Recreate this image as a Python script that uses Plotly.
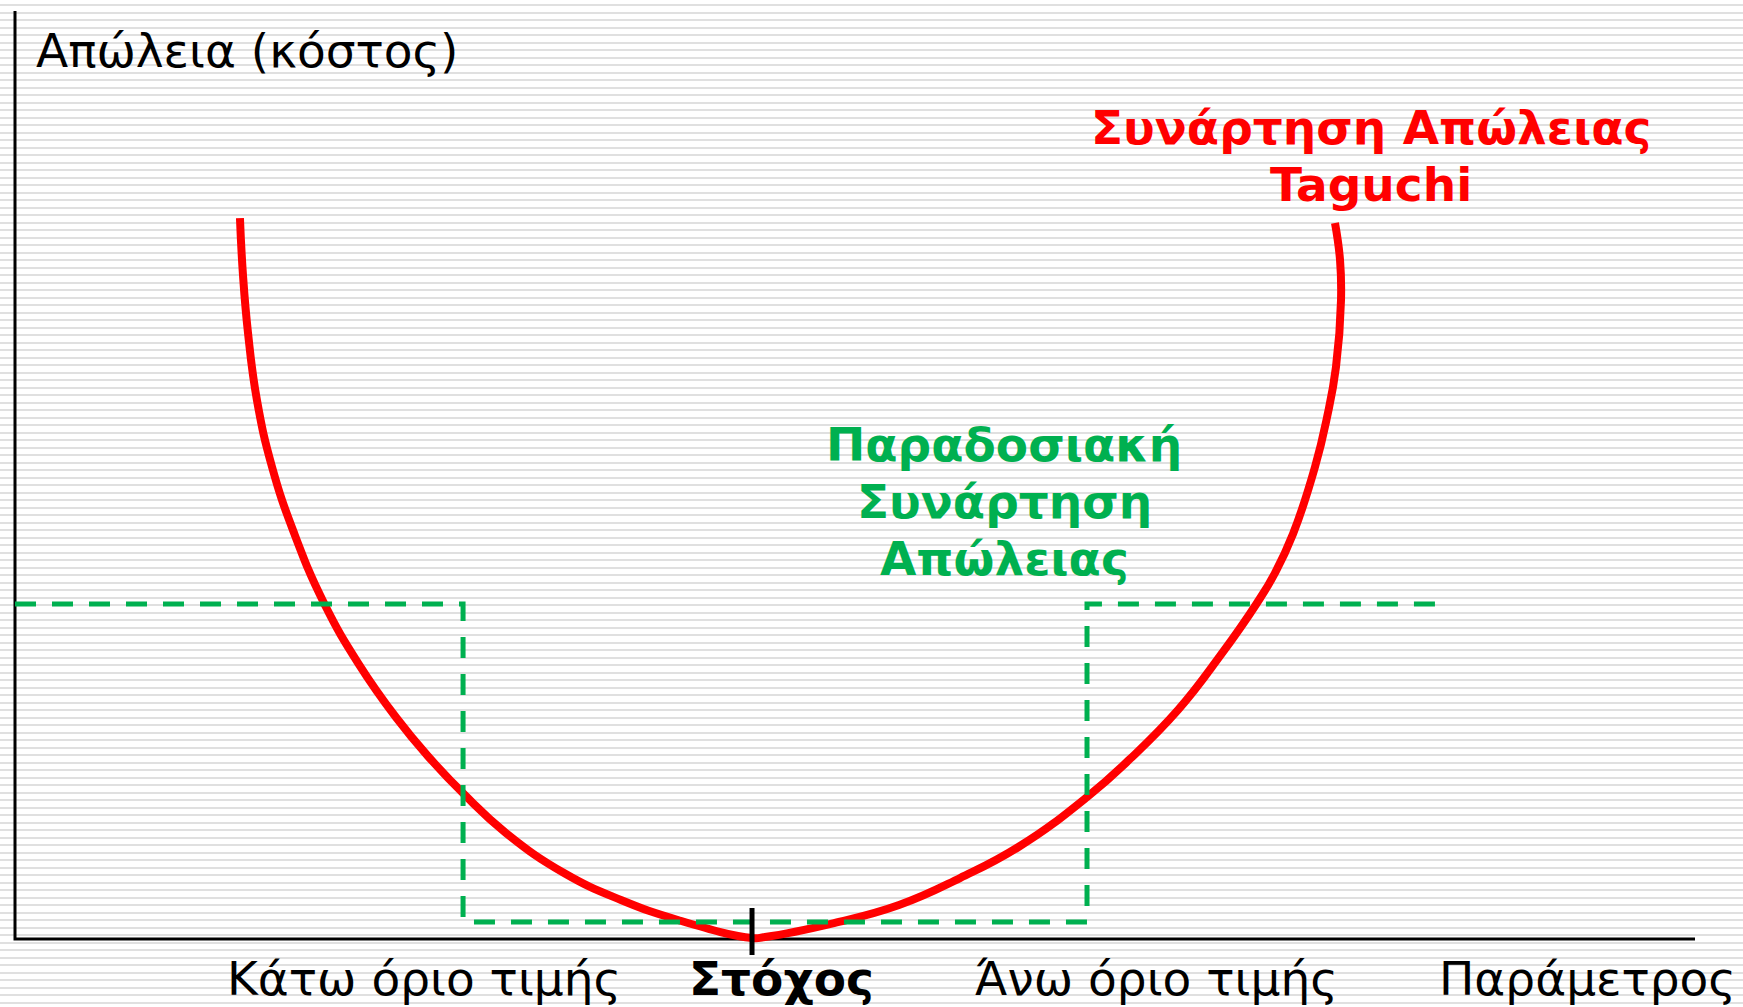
import plotly.graph_objects as go

# ---- data (x: parameter, y: loss/cost; axis spans 0..100 on both) ----
taguchi_x = [13.39, 13.57, 13.87, 14.40, 15.30, 16.61, 18.39, 20.46, 22.71, 24.57,
             26.77, 29.23, 32.68, 36.07, 39.46, 43.87, 44.64, 48.75, 52.62, 56.25,
             59.82, 63.81, 66.37, 69.23, 71.73, 73.93, 75.00, 76.07, 77.38, 78.10,
             78.63, 78.93, 78.87, 78.57]
taguchi_y = [77.69, 71.55, 65.30, 58.08, 50.86, 43.75, 36.21, 29.63, 23.81, 19.72,
             15.52, 11.42, 7.11, 4.20, 2.05, 0.11, 0.22, 1.72, 3.66, 6.57,
             10.02, 15.30, 19.40, 24.68, 30.50, 36.21, 39.44, 43.64, 50.86, 56.25,
             61.64, 68.86, 73.17, 77.16]

lower_limit = 26.67
upper_limit = 63.81
target = 43.87
traditional_loss_level = 36.1
traditional_floor = 1.83
traditional_x_end = 84.82

axis_x_max = 100
axis_y_max = 100

tick_labels = ["Κάτω όριο τιμής", "Στόχος", "Άνω όριο τιμής", "Παράμετρος"]
y_label = "Απώλεια (κόστος)"
taguchi_lines = ["Συνάρτηση Απώλειας", "Taguchi"]
traditional_lines = ["Παραδοσιακή", "Συνάρτηση", "Απώλειας"]

# ---- geometry of the page ----
W, H = 1743, 1007
X0_PX, X_UNIT = 15, 16.8      # pixel of x=0, pixels per x unit
Y0_PX, Y_UNIT = 939, 9.28     # pixel of y=0, pixels per y unit

def xd(px):
    return (px - X0_PX) / X_UNIT

def yd(py):
    return (Y0_PX - py) / Y_UNIT

RED = "#FF0000"
GREEN = "#00B050"
FONT = "DejaVu Sans, Verdana, sans-serif"
FS = 47

fig = go.Figure()

trad_x = [0, lower_limit, lower_limit, upper_limit, upper_limit, traditional_x_end]
trad_y = [traditional_loss_level, traditional_loss_level, traditional_floor,
          traditional_floor, traditional_loss_level, traditional_loss_level]

# axes lines
fig.add_trace(go.Scatter(x=[0, 0, axis_x_max], y=[axis_y_max, 0, 0], mode="lines",
                         line=dict(color="black", width=3), hoverinfo="skip"))
# Taguchi loss
fig.add_trace(go.Scatter(x=taguchi_x, y=taguchi_y, mode="lines",
                         line=dict(color=RED, width=8, shape="spline", smoothing=1.3),
                         hoverinfo="skip"))
# traditional loss
fig.add_trace(go.Scatter(x=trad_x, y=trad_y, mode="lines",
                         line=dict(color=GREEN, width=5, dash="21px,16px"),
                         hoverinfo="skip"))
# target tick
fig.add_trace(go.Scatter(x=[target, target], y=[yd(908), yd(955)], mode="lines",
                         line=dict(color="black", width=5), hoverinfo="skip"))

def note(px, py, text, color="black", anchor="center", bold=False):
    t = f"<b>{text}</b>" if bold else text
    return dict(x=xd(px), y=yd(py), text=t, xanchor=anchor, yanchor="middle",
                showarrow=False, font=dict(family=FONT, size=FS, color=color))

ann = [note(34, 50, y_label, anchor="left")]
for line, py in zip(taguchi_lines, [127, 184]):
    ann.append(note(1371, py, line, color=RED, bold=True))
for line, py in zip(traditional_lines, [444, 501, 558]):
    ann.append(note(1004, py, line, color=GREEN, bold=True))
label_px = [424, 781, 1156, 1587]
for lbl, px in zip(tick_labels, label_px):
    ann.append(note(px, 978, lbl, bold=(lbl == "Στόχος")))

fig.update_layout(
    width=W, height=H,
    margin=dict(l=0, r=0, t=0, b=0),
    paper_bgcolor="white", plot_bgcolor="white",
    showlegend=False,
    annotations=ann,
    xaxis=dict(range=[xd(0), xd(W)], domain=[0, 1], showgrid=False, zeroline=False,
               showticklabels=False, showline=False, fixedrange=True),
    yaxis=dict(range=[yd(H), yd(0)], domain=[0, 1], showgrid=True,
               gridcolor="#e0e0e0", gridwidth=2, tick0=yd(5), dtick=7.5 / Y_UNIT,
               zeroline=False, showticklabels=False, showline=False, fixedrange=True),
)

fig.write_html(
    "out.html",
    config={"displayModeBar": False},
    post_script="document.body.style.margin='0';document.body.style.overflow='hidden';",
)
